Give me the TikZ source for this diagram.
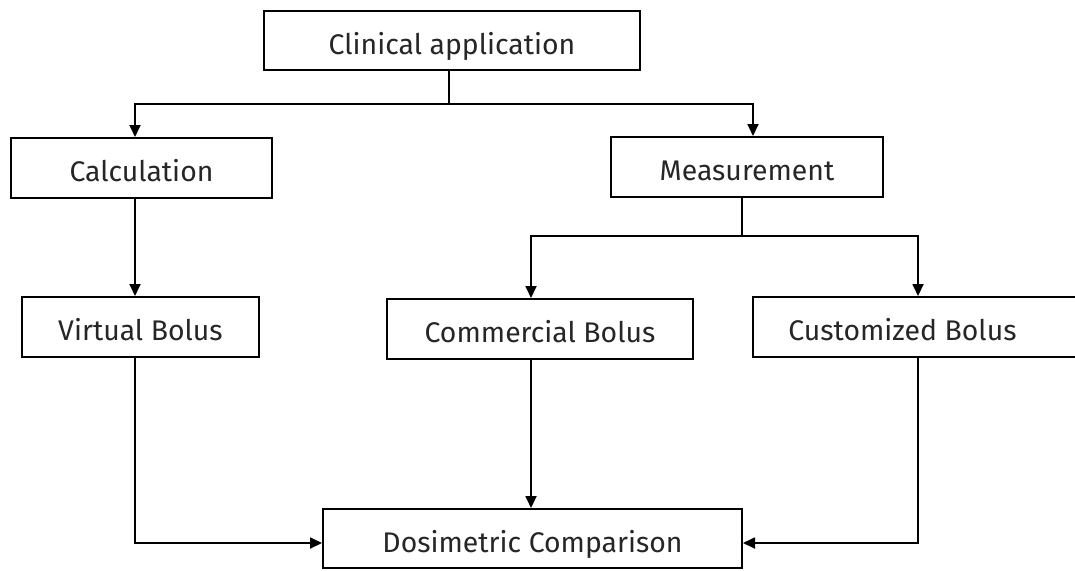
\documentclass[tikz,border=0pt]{standalone}
\usepackage{fontspec}
\setmainfont{Fira Sans}
\usetikzlibrary{arrows.meta}
\begin{document}
\begin{tikzpicture}[x=1pt,y=-1pt,
  box/.style={draw, line width=2pt, rectangle, inner sep=0pt, text height=27.6pt, text depth=0pt, font=\fontsize{28.4}{32}\selectfont, text=black!85},
  conn/.style={line width=1.8pt},
  arr/.style={conn, -{Triangle[length=12pt,width=11pt]}}]
\useasboundingbox (0,0) rectangle (1075,570);
\fill[white] (0,0) rectangle (1075,570);
\clip (0,0) rectangle (1075,570);
\node[box, minimum width=376pt, minimum height=59pt] (clin) at (452,40.5) {Clinical application};
\node[box, minimum width=261pt, minimum height=60pt] (calc) at (141.5,168) {Calculation};
\node[box, minimum width=272pt, minimum height=60pt] (meas) at (747,167) {Measurement};
\node[box, minimum width=237pt, minimum height=60pt] (virt) at (140.5,327) {Virtual Bolus};
\node[box, minimum width=306pt, minimum height=60pt] (comm) at (540,329) {Commercial Bolus};
\node[box, minimum width=337pt, minimum height=60pt] (cust) at (921.5,327) {Customized Bolus\hspace*{38pt}};
\node[box, minimum width=419pt, minimum height=59pt] (dos) at (532.5,538.5) {Dosimetric Comparison};
\coordinate (j1) at (449,104);
\coordinate (j2) at (742,236);
\coordinate (xa) at (135,0);
\coordinate (xb) at (753,0);
\coordinate (xc) at (531,0);
\coordinate (xd) at (918,0);
\coordinate (yl) at (0,543);
\draw[conn] (clin.south -| j1) -- (j1);
\draw[arr] (j1) -| (calc.north -| xa);
\draw[arr] (j1) -| (meas.north -| xb);
\draw[arr] (calc.south -| xa) -- (virt.north -| xa);
\draw[conn] (meas.south -| j2) -- (j2);
\draw[arr] (j2) -| (comm.north -| xc);
\draw[arr] (j2) -| (cust.north -| xd);
\draw[arr] (virt.south -| xa) |- (dos.west |- yl);
\draw[arr] (comm.south -| xc) -- (dos.north -| xc);
\draw[arr] (cust.south -| xd) |- (dos.east |- yl);
\end{tikzpicture}
\end{document}
